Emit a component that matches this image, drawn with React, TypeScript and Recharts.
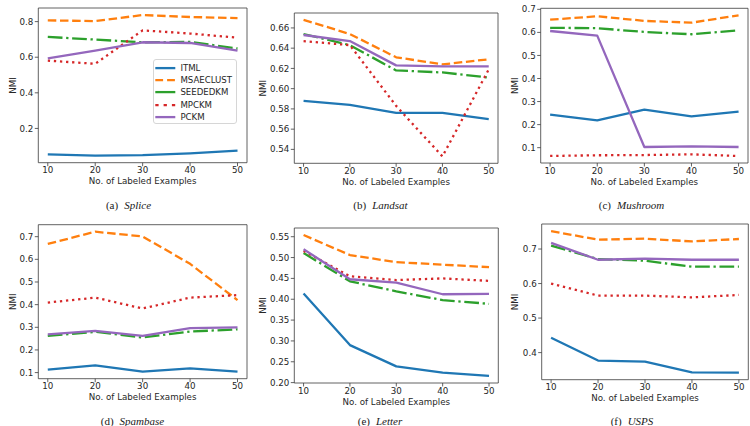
import React from 'react';
import { LineChart, Line, XAxis, YAxis, ReferenceArea, Legend } from 'recharts';

// Number of labeled examples (x values shared by every panel)
const labeledExamples = [10, 20, 30, 40, 50];

// NMI per method, one small table per dataset
const spliceNMI = {
  ITML: [0.054, 0.047, 0.05, 0.06, 0.075],
  MSAECLUST: [0.807, 0.803, 0.837, 0.826, 0.82],
  SEEDEDKM: [0.714, 0.699, 0.684, 0.686, 0.649],
  MPCKM: [0.581, 0.563, 0.751, 0.733, 0.71],
  PCKM: [0.594, 0.637, 0.684, 0.68, 0.637],
};
const landsatNMI = {
  ITML: [0.588, 0.584, 0.576, 0.576, 0.57],
  MSAECLUST: [0.668, 0.654, 0.631, 0.624, 0.629],
  SEEDEDKM: [0.654, 0.643, 0.618, 0.616, 0.611],
  MPCKM: [0.647, 0.643, 0.583, 0.533, 0.619],
  PCKM: [0.653, 0.647, 0.623, 0.622, 0.622],
};
const mushroomNMI = {
  ITML: [0.243, 0.218, 0.265, 0.236, 0.256],
  MSAECLUST: [0.655, 0.67, 0.65, 0.642, 0.674],
  SEEDEDKM: [0.62, 0.618, 0.602, 0.592, 0.609],
  MPCKM: [0.064, 0.067, 0.068, 0.071, 0.064],
  PCKM: [0.606, 0.586, 0.103, 0.106, 0.103],
};
const spambaseNMI = {
  ITML: [0.113, 0.132, 0.104, 0.119, 0.104],
  MSAECLUST: [0.668, 0.722, 0.701, 0.58, 0.42],
  SEEDEDKM: [0.262, 0.28, 0.255, 0.281, 0.291],
  MPCKM: [0.409, 0.431, 0.383, 0.431, 0.442],
  PCKM: [0.269, 0.284, 0.262, 0.296, 0.3],
};
const letterNMI = {
  ITML: [0.414, 0.29, 0.239, 0.224, 0.216],
  MSAECLUST: [0.554, 0.506, 0.489, 0.483, 0.477],
  SEEDEDKM: [0.511, 0.443, 0.419, 0.398, 0.389],
  MPCKM: [0.516, 0.455, 0.446, 0.45, 0.444],
  PCKM: [0.52, 0.448, 0.44, 0.412, 0.413],
};
const uspsNMI = {
  ITML: [0.443, 0.377, 0.374, 0.343, 0.342],
  MSAECLUST: [0.752, 0.727, 0.73, 0.722, 0.729],
  SEEDEDKM: [0.71, 0.671, 0.666, 0.649, 0.649],
  MPCKM: [0.6, 0.565, 0.565, 0.56, 0.567],
  PCKM: [0.718, 0.669, 0.672, 0.669, 0.669],
};

// Y tick values and their printed labels
const spliceTicks = [0.2, 0.4, 0.6, 0.8];
const spliceTickLabels = ['0.2', '0.4', '0.6', '0.8'];
const landsatTicks = [0.54, 0.56, 0.58, 0.6, 0.62, 0.64, 0.66];
const landsatTickLabels = ['0.54', '0.56', '0.58', '0.60', '0.62', '0.64', '0.66'];
const mushroomTicks = [0.1, 0.2, 0.3, 0.4, 0.5, 0.6, 0.7];
const mushroomTickLabels = ['0.1', '0.2', '0.3', '0.4', '0.5', '0.6', '0.7'];
const spambaseTicks = [0.1, 0.2, 0.3, 0.4, 0.5, 0.6, 0.7];
const spambaseTickLabels = ['0.1', '0.2', '0.3', '0.4', '0.5', '0.6', '0.7'];
const letterTicks = [0.2, 0.25, 0.3, 0.35, 0.4, 0.45, 0.5, 0.55];
const letterTickLabels = ['0.20', '0.25', '0.30', '0.35', '0.40', '0.45', '0.50', '0.55'];
const uspsTicks = [0.4, 0.5, 0.6, 0.7];
const uspsTickLabels = ['0.4', '0.5', '0.6', '0.7'];

const xTickLabels = ['10', '20', '30', '40', '50'];

const LW = 2.3;
const series = [
  { name: 'ITML', color: '#1f77b4', dash: undefined as string | undefined, legendDash: undefined as string | undefined },
  { name: 'MSAECLUST', color: '#ff7f0e', dash: `${3.7 * LW} ${1.6 * LW}`, legendDash: '7.8 4' },
  { name: 'SEEDEDKM', color: '#2ca02c', dash: `${6.4 * LW} ${1.6 * LW} ${1 * LW} ${1.6 * LW}`, legendDash: undefined },
  { name: 'MPCKM', color: '#d62728', dash: `${LW} ${1.65 * LW}`, legendDash: '3.3 5' },
  { name: 'PCKM', color: '#9467bd', dash: undefined, legendDash: undefined },
];

const FONT = "'DejaVu Sans', sans-serif";
const TEXT = '#262626';
const FRAME = '#3a3a3a';
const CHART_W = 250;
const CHART_H = 195;

type PanelCfg = {
  data: Record<string, number[]>;
  ticks: number[];
  tickLabels: string[];
  caption: string;
  name: string;
  left: number;
  top: number;
  yWidth: number;
  right: number;
  plotTop: number;
  plotBottom: number;
  yTitleX: number;
  captionX: number;
  captionY: number;
  legend?: boolean;
};

const panels: PanelCfg[] = [
  { data: spliceNMI, ticks: spliceTicks, tickLabels: spliceTickLabels, caption: '(a)', name: 'Splice',
    left: 0, top: 0, yWidth: 38.3, right: 3, plotTop: 8, plotBottom: 162.7, yTitleX: 13, captionX: 128.5, captionY: 205, legend: true },
  { data: landsatNMI, ticks: landsatTicks, tickLabels: landsatTickLabels, caption: '(b)', name: 'Landsat',
    left: 250, top: 0, yWidth: 44.3, right: 2, plotTop: 13, plotBottom: 163.3, yTitleX: 13.3, captionX: 380.5, captionY: 205 },
  { data: mushroomNMI, ticks: mushroomTicks, tickLabels: mushroomTickLabels, caption: '(c)', name: 'Mushroom',
    left: 500, top: 0, yWidth: 40.7, right: 2, plotTop: 8.3, plotBottom: 163, yTitleX: 15, captionX: 631.5, captionY: 205 },
  { data: spambaseNMI, ticks: spambaseTicks, tickLabels: spambaseTickLabels, caption: '(d)', name: 'Spambase',
    left: 0, top: 213, yWidth: 38.3, right: 3, plotTop: 11.7, plotBottom: 165.7, yTitleX: 12.7, captionX: 132.5, captionY: 420.5 },
  { data: letterNMI, ticks: letterTicks, tickLabels: letterTickLabels, caption: '(e)', name: 'Letter',
    left: 250, top: 213, yWidth: 44.3, right: 1.7, plotTop: 15, plotBottom: 170, yTitleX: 13.3, captionX: 380, captionY: 420.5 },
  { data: uspsNMI, ticks: uspsTicks, tickLabels: uspsTickLabels, caption: '(f)', name: 'USPS',
    left: 500, top: 213, yWidth: 41.7, right: 1.7, plotTop: 11, plotBottom: 166.7, yTitleX: 15, captionX: 632, captionY: 420.5 },
];

function LegendBox() {
  return (
    <div
      style={{
        width: 84.6,
        height: 65,
        boxSizing: 'border-box',
        border: '1px solid #d6d6d6',
        borderRadius: 3,
        background: 'rgba(255,255,255,0.85)',
        paddingTop: 2,
        fontFamily: FONT,
        fontSize: 8.6,
        color: TEXT,
      }}
    >
      {series.map((s) => (
        <div key={s.name} style={{ height: 12.2, display: 'flex', alignItems: 'center', whiteSpace: 'nowrap' }}>
          <svg width={26} height={12.2} style={{ display: 'block' }}>
            <line x1={1.3} x2={21.3} y1={6.1} y2={6.1} stroke={s.color} strokeWidth={LW} strokeDasharray={s.legendDash} />
          </svg>
          <span style={{ marginLeft: 0.7, lineHeight: '12.2px' }}>{s.name}</span>
        </div>
      ))}
    </div>
  );
}

function Panel({ p }: { p: PanelCfg }) {
  const rows = labeledExamples.map((x, i) => {
    const r: Record<string, number> = { x };
    series.forEach((s) => {
      r[s.name] = p.data[s.name][i];
    });
    return r;
  });
  const all = series.flatMap((s) => p.data[s.name]);
  const mn = Math.min(...all);
  const mx = Math.max(...all);
  const pad = (mx - mn) * 0.05;
  const lo = mn - pad;
  const hi = mx + pad;
  const plotRight = CHART_W - p.right;
  const xCenter = (p.yWidth + plotRight) / 2;
  const yCenter = (p.plotTop + p.plotBottom) / 2;

  const tickStyle = { fontSize: 8.7, fill: TEXT, fontFamily: FONT };

  return (
    <div style={{ position: 'absolute', left: p.left, top: p.top }}>
      <LineChart
        width={CHART_W}
        height={CHART_H}
        data={rows}
        margin={{ top: p.plotTop, right: p.right, left: 0, bottom: 0 }}
      >
        <XAxis
          dataKey="x"
          type="number"
          domain={[8, 52]}
          ticks={labeledExamples}
          interval={0}
          allowDataOverflow
          height={CHART_H - p.plotBottom}
          axisLine={false}
          tickSize={3.5}
          tickMargin={1}
          tickLine={{ stroke: FRAME, strokeWidth: 0.8 }}
          tick={tickStyle}
          tickFormatter={(v: number) => xTickLabels[labeledExamples.indexOf(v)]}
          label={() => (
            <text
              x={xCenter}
              y={p.plotBottom + 18.7}
              textAnchor="middle"
              dominantBaseline="central"
              fontSize={8.7}
              fontFamily={FONT}
              fill={TEXT}
            >
              No. of Labeled Examples
            </text>
          )}
        />
        <YAxis
          type="number"
          domain={[lo, hi]}
          ticks={p.ticks}
          interval={0}
          allowDataOverflow
          width={p.yWidth}
          axisLine={false}
          tickSize={3.5}
          tickMargin={1.5}
          tickLine={{ stroke: FRAME, strokeWidth: 0.8 }}
          tick={tickStyle}
          tickFormatter={(v: number) => p.tickLabels[p.ticks.indexOf(v)]}
          label={() => (
            <text
              x={p.yTitleX}
              y={yCenter}
              textAnchor="middle"
              dominantBaseline="central"
              fontSize={8.7}
              fontFamily={FONT}
              fill={TEXT}
              transform={`rotate(-90 ${p.yTitleX} ${yCenter})`}
            >
              NMI
            </text>
          )}
        />
        <ReferenceArea
          x1={8}
          x2={52}
          y1={lo}
          y2={hi}
          fill="none"
          fillOpacity={0}
          stroke={FRAME}
          strokeWidth={0.8}
          ifOverflow="visible"
        />
        {series.map((s) => (
          <Line
            key={s.name}
            type="linear"
            dataKey={s.name}
            stroke={s.color}
            strokeWidth={LW}
            strokeDasharray={s.dash}
            strokeLinejoin="round"
            dot={false}
            activeDot={false}
            isAnimationActive={false}
          />
        ))}
        {p.legend && (
          <Legend
            layout="vertical"
            align="center"
            verticalAlign="middle"
            wrapperStyle={{ left: 152.7, top: 59, width: 'auto', height: 'auto' }}
            content={() => <LegendBox />}
          />
        )}
      </LineChart>
      <div
        style={{
          position: 'absolute',
          left: p.captionX - p.left,
          top: p.captionY - p.top - 5,
          height: 10,
          transform: 'translateX(-50%)',
          fontFamily: "'Liberation Serif', 'Times New Roman', serif",
          fontSize: 11,
          lineHeight: '10px',
          color: '#1a1a1a',
          whiteSpace: 'nowrap',
        }}
      >
        {p.caption}
        <span style={{ fontStyle: 'italic', marginLeft: 6 }}>{p.name}</span>
      </div>
    </div>
  );
}

export default function App() {
  return (
    <div style={{ position: 'absolute', left: 0, top: 0, width: 750, height: 426, background: '#ffffff', overflow: 'hidden' }}>
      {panels.map((p) => (
        <Panel key={p.name} p={p} />
      ))}
    </div>
  );
}
